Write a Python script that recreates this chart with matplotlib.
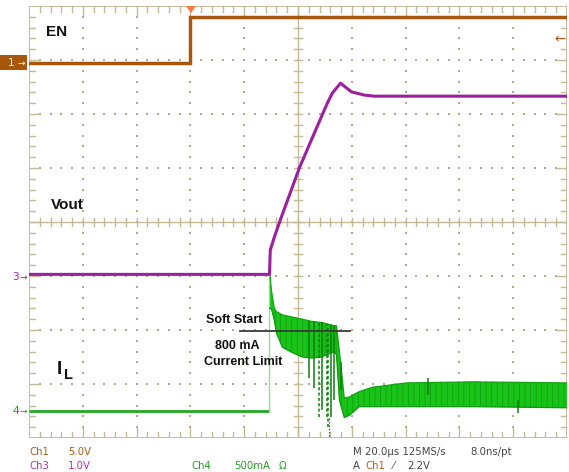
import matplotlib
matplotlib.use('Agg')
import matplotlib.pyplot as plt
import numpy as np

# ---------------- data (physical units) ----------------
# time axis in microseconds (20 us/div, trigger at t=0)
en_t = [-60, 0.0, 0.0, 140]
en_v = [0.0, 0.0, 4.2, 4.2]            # Ch1, 5 V/div

vout_t = [-60, 29.4, 29.7, 31.2, 33.8, 40.5, 46.1, 50.9, 52.8, 55.8, 59.9, 64.7, 68.4, 140]
vout_v = [0.03, 0.03, 0.48, 0.72, 1.09, 2.00, 2.65, 3.20, 3.39, 3.57, 3.41, 3.35, 3.33, 3.33]  # Ch3, 1 V/div

il_flat_t = [-60, 29.2]
il_flat_a = [0.0, 0.0]                  # Ch4, 500 mA/div

band_t  = [29.4, 30.1, 31.2, 32.0, 34.2, 37.9, 41.6, 45.0, 48.7, 53.5, 54.3, 55.4, 57.2, 59.1, 62.8, 67.7, 80.3, 104.8, 140]
band_hi = [1.31, 1.12, 0.95, 0.92, 0.89, 0.87, 0.85, 0.83, 0.82, 0.79, 0.79, 0.55, 0.12, 0.13, 0.18, 0.22, 0.26, 0.27, 0.26]
band_lo = [0.95, 0.95, 0.84, 0.72, 0.59, 0.54, 0.50, 0.49, 0.50, 0.55, 0.52, 0.10, -0.06, -0.04, 0.04, 0.04, 0.04, 0.04, 0.03]

spike_t   = [44.2, 46.1, 47.9, 49.1, 50.6, 51.3, 52.4, 53.5, 56.1, 88.5, 121.9]
spike_top = [0.83, 0.83, 0.82, 0.82, 0.81, 0.80, 0.80, 0.79, 0.45, 0.31, 0.10]
spike_bot = [0.31, 0.21, -0.06, 0.01, -0.06, -0.15, -0.06, 0.10, 0.19, 0.15, -0.02]
spike_dashed = [False, False, True, False, True, True, False, False, False, False, False]

# ---------------- styling ----------------
W, H = 569, 472
fig = plt.figure(figsize=(W / 100, H / 100), dpi=100)
fig.patch.set_facecolor('white')
rect = [29 / W, (H - 438) / H, 538 / W, 432 / H]

def P(x, y):
    return (x / W, 1 - y / H)

tan = '#c2b996'
c_en = '#a8560c'
c_vo = '#9c1fa0'
c_il = '#19c419'
c_ild = '#0a7f0a'

# graticule axes in divisions
g = fig.add_axes(rect)
g.set_xlim(0, 10)
g.set_ylim(0, 8)
g.axis('off')
g.add_patch(plt.Rectangle((0, 0), 10, 8, fill=False, ec=tan, lw=1.3, zorder=1))
dx, dy = 0.2, 0.2
pts_x, pts_y = [], []
for i in range(1, 10):
    if i == 5:
        continue
    for k in range(1, 40):
        pts_x.append(i); pts_y.append(k * dy)
for j in range(1, 8):
    if j == 4:
        continue
    for k in range(1, 50):
        pts_x.append(k * dx); pts_y.append(j)
g.scatter(pts_x, pts_y, s=1.2, c='#b3aa8c', marker='s', lw=0, zorder=1)
g.plot([5, 5], [0, 8], color=tan, lw=1.0, zorder=1)
g.plot([0, 10], [4, 4], color=tan, lw=1.0, zorder=1)
tx = 4.0 / 53.8
ty = 4.0 / 54
for k in range(1, 50):
    x = k * dx
    g.plot([x, x], [4 - ty, 4 + ty], color=tan, lw=1.0, zorder=1)
    L = 2.6 * ty if k % 5 == 0 else 1.4 * ty
    g.plot([x, x], [8, 8 - L], color=tan, lw=1.0, zorder=1)
    g.plot([x, x], [0, L], color=tan, lw=1.0, zorder=1)
for k in range(1, 40):
    y = k * dy
    g.plot([5 - tx, 5 + tx], [y, y], color=tan, lw=1.0, zorder=1)
    L = 2.6 * tx if k % 5 == 0 else 1.4 * tx
    g.plot([0, L], [y, y], color=tan, lw=1.0, zorder=1)
    g.plot([10, 10 - L], [y, y], color=tan, lw=1.0, zorder=1)

def chan_axes(offset_div, per_div):
    a = fig.add_axes(rect)
    a.set_xlim(-60, 140)
    a.set_ylim(-offset_div * per_div, (8 - offset_div) * per_div)
    a.axis('off')
    a.patch.set_alpha(0)
    return a

# Ch4 inductor current
a4 = chan_axes(0.5, 0.5)
a4.plot(il_flat_t, il_flat_a, color='#22a822', lw=2.0, solid_capstyle='butt')
a4.plot([29.3, 29.3], [0, 1.31], color='#8fe08f', lw=1.0)
plt.rcParams['hatch.linewidth'] = 0.6
a4.fill_between(band_t, band_lo, band_hi, facecolor=c_il, edgecolor='#10a010',
                hatch='|||', lw=0.0)
a4.plot(band_t, band_hi, color='#11a511', lw=0.9)
a4.plot(band_t, band_lo, color='#0e980e', lw=0.9)
for t, top, bot, dsh in zip(spike_t, spike_top, spike_bot, spike_dashed):
    a4.vlines(t, bot, top, colors=c_ild, lw=1.1,
              linestyles=(0, (2, 1.5)) if dsh else 'solid')

# Ch3 Vout
a3 = chan_axes(3.0, 1.0)
a3.plot(vout_t, vout_v, color=c_vo, lw=2.2, solid_joinstyle='round')

# Ch1 EN
a1 = chan_axes(6.95, 5.0)
a1.plot(en_t, en_v, color=c_en, lw=2.5, solid_joinstyle='miter')

# ---------------- markers ----------------
fig.patches.append(plt.Rectangle(P(0, 70), 27 / W, 15 / H, transform=fig.transFigure,
                                 fc=c_en, ec='none'))
fig.text(*P(8, 63), '1', color='white', fontsize=7.5, va='center', ha='left',
         family='DejaVu Sans')
fig.text(*P(17, 63), '\u2192', color='white', fontsize=6.5, va='center', ha='left',
         family='DejaVu Sans')
fig.text(*P(12, 277), '3', color=c_vo, fontsize=7.5, va='center', ha='left',
         family='DejaVu Sans')
fig.text(*P(19, 277), '\u2192', color=c_vo, fontsize=6.5, va='center', ha='left',
         family='DejaVu Sans')
fig.text(*P(12, 411), '4', color='#22a022', fontsize=7.5, va='center', ha='left',
         family='DejaVu Sans')
fig.text(*P(19, 411), '\u2192', color='#22a022', fontsize=6.5, va='center', ha='left',
         family='DejaVu Sans')
tri = plt.Polygon([P(186, 6), P(196, 6), P(191, 13)], closed=True,
                  transform=fig.transFigure, fc='#ff7a3c', ec='none')
fig.patches.append(tri)
fig.text(*P(554, 39), '\u2190', color=c_en, fontsize=9, va='center', ha='left',
         family='DejaVu Sans')
fig.lines.append(plt.Line2D([329 / W, 329 / W], [1 - 418 / H, 1 - 438 / H],
                            transform=fig.transFigure, color='#2b6b2b', lw=0.8,
                            ls=(0, (1.5, 1.5))))

# ---------------- labels ----------------
lab = dict(family='Liberation Sans', fontweight='bold', color='#111111')
fig.text(*P(46, 32), 'EN', fontsize=11, va='center', ha='left', **lab)
fig.text(*P(51, 205), 'Vout', fontsize=11, va='center', ha='left', **lab)
fig.text(*P(57, 369), 'I', fontsize=13.5, va='center', ha='left', **lab)
fig.text(*P(64, 375), 'L', fontsize=10.5, va='center', ha='left', **lab)
fig.text(*P(206, 320), 'Soft Start', fontsize=9, va='center', ha='left', **lab)
fig.text(*P(215, 346), '800 mA', fontsize=9, va='center', ha='left', **lab)
fig.text(*P(204, 362), 'Current Limit', fontsize=9, va='center', ha='left', **lab)
fig.lines.append(plt.Line2D([240 / W, 350 / W], [1 - 331 / H, 1 - 331 / H],
                            transform=fig.transFigure, color='#3a3a3a', lw=1.3))

# ---------------- status text ----------------
st = dict(family='DejaVu Sans', fontsize=7.3, va='center', ha='left')
c1 = '#a8601a'; c3 = '#b030b0'; c4 = '#22a022'; cg = '#454545'
fig.text(*P(29, 452), 'Ch1', color=c1, **st)
fig.text(*P(68, 452), '5.0V', color=c1, **st)
fig.text(*P(29, 466), 'Ch3', color=c3, **st)
fig.text(*P(68, 466), '1.0V', color=c3, **st)
fig.text(*P(191, 466), 'Ch4', color=c4, **st)
fig.text(*P(234, 466), '500mA', color=c4, **st)
fig.text(*P(279, 466), '\u03a9', color=c4, **st)
fig.text(*P(353, 452), 'M 20.0\u00b5s 125MS/s', color=cg, **st)
fig.text(*P(470, 452), '8.0ns/pt', color=cg, **st)
fig.text(*P(353, 466), 'A', color=cg, **st)
fig.text(*P(365, 466), 'Ch1', color=c1, **st)
fig.text(*P(393, 466), '\u2044', color=cg, **st)
fig.text(*P(407, 466), '2.2V', color=cg, **st)

fig.savefig('out.png', dpi=100, facecolor='white')
